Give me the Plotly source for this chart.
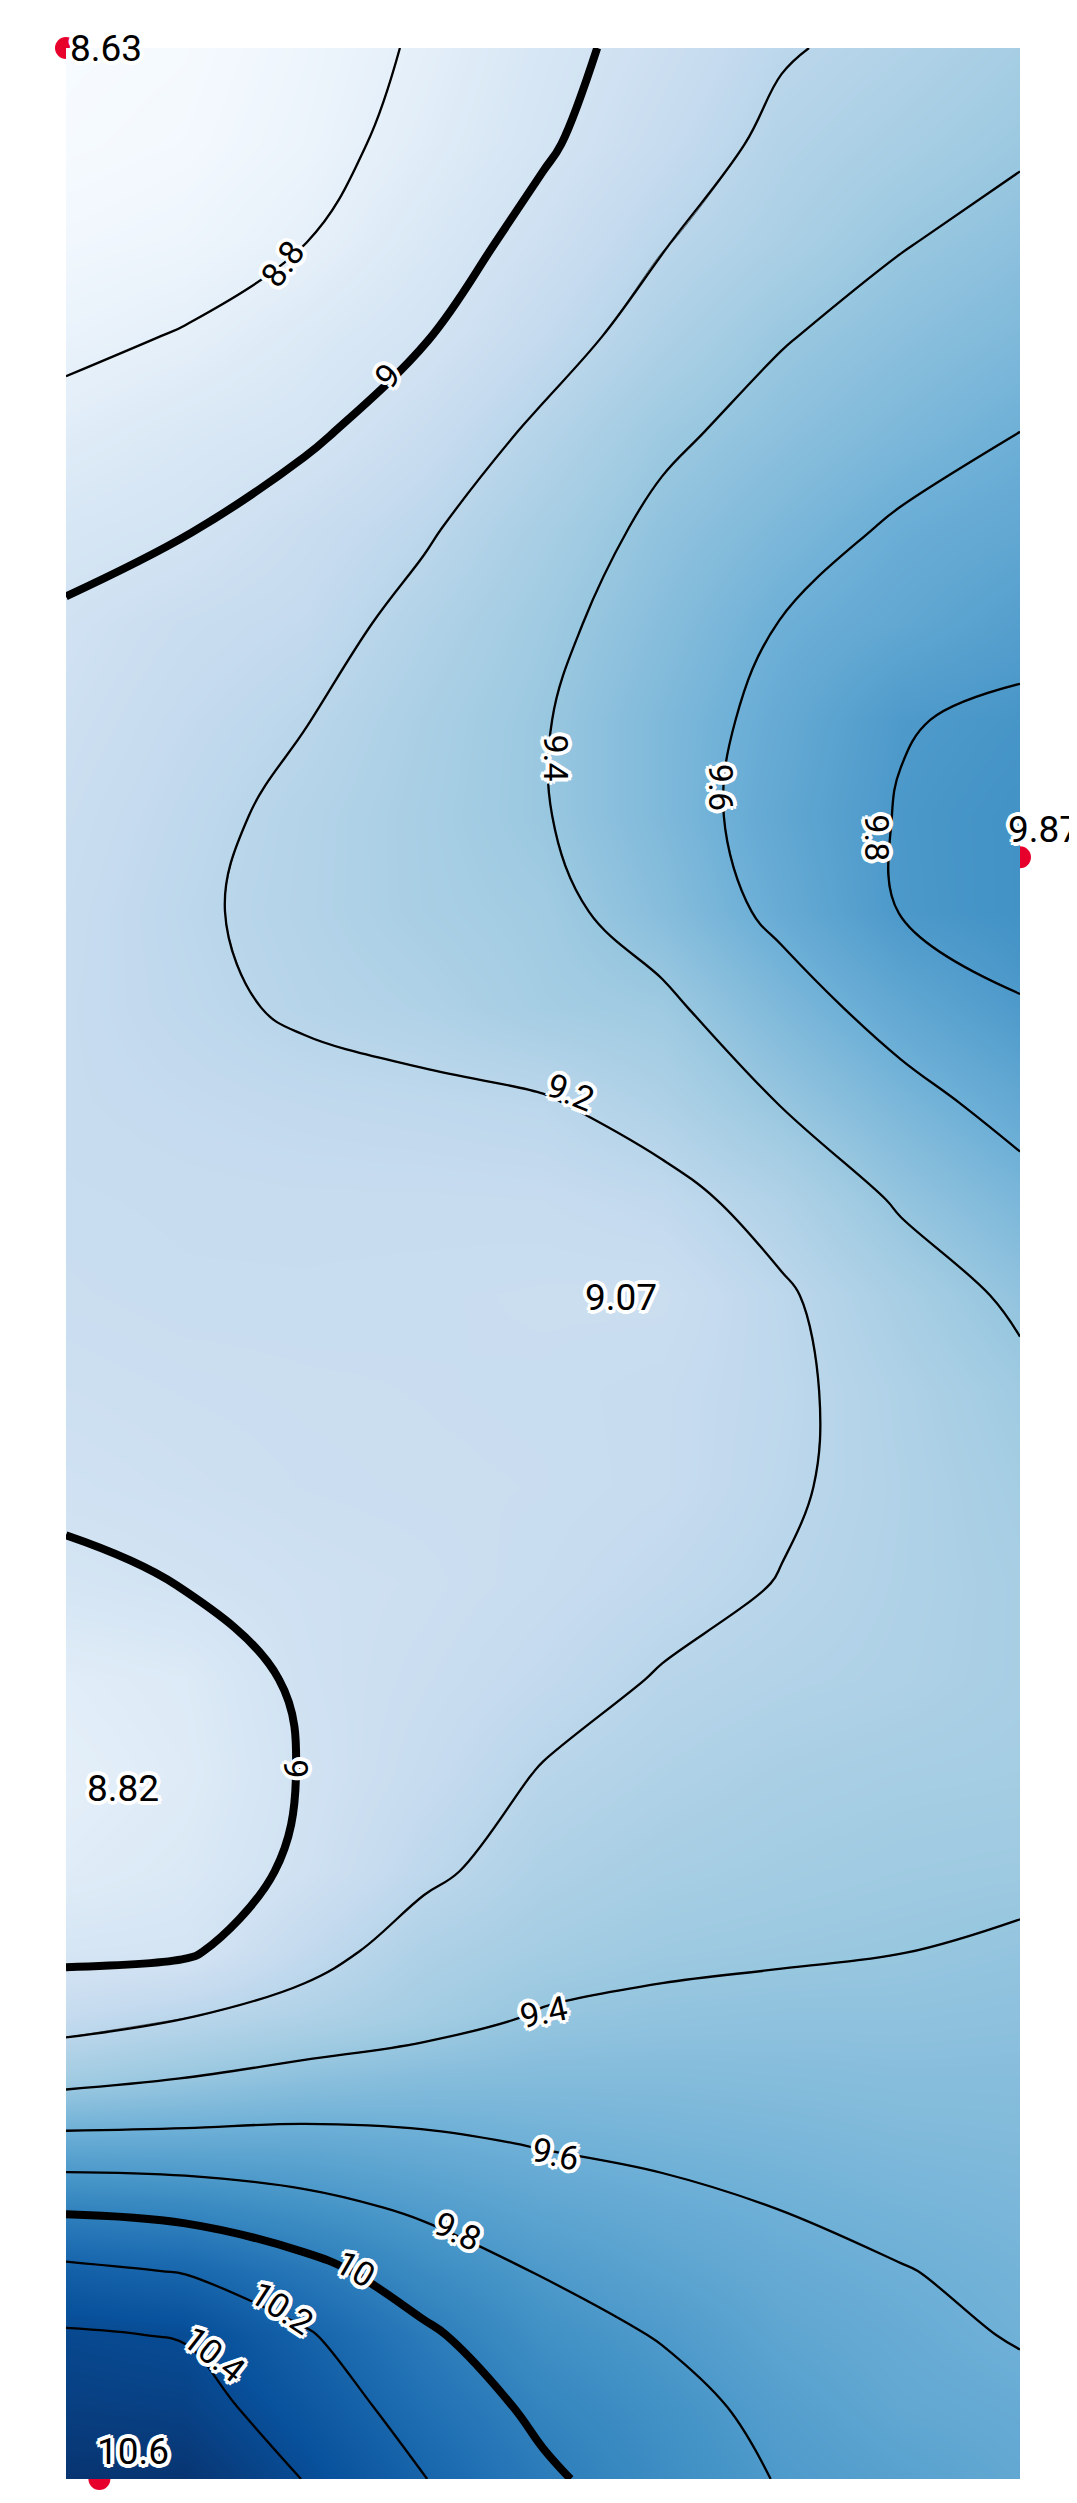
import plotly.graph_objects as go
import plotly.express as px

# measured field on a grid (x across, y down from the top edge)
x = [0, 75, 150, 225, 300, 375, 450, 525, 600]
y = [0, 60, 120, 180, 240, 300, 360, 420, 480, 540, 600, 660, 720, 780, 840,
     900, 960, 1020, 1080, 1140, 1190, 1230, 1270, 1310, 1350, 1390, 1430, 1475, 1520]
z = [
    [8.63, 8.65, 8.72, 8.82, 8.95, 9.06, 9.185, 9.25, 9.32],
    [8.645, 8.67, 8.74, 8.855, 8.98, 9.11, 9.24, 9.31, 9.38],
    [8.69, 8.72, 8.795, 8.92, 9.05, 9.19, 9.29, 9.39, 9.45],
    [8.76, 8.81, 8.90, 8.99, 9.13, 9.27, 9.39, 9.46, 9.52],
    [8.855, 8.92, 8.97, 9.09, 9.23, 9.37, 9.455, 9.53, 9.60],
    [8.95, 8.99, 9.085, 9.18, 9.31, 9.435, 9.53, 9.62, 9.67],
    [9.02, 9.09, 9.135, 9.25, 9.36, 9.48, 9.605, 9.675, 9.75],
    [9.05, 9.13, 9.195, 9.295, 9.39, 9.52, 9.65, 9.79, 9.83],
    [9.08, 9.16, 9.235, 9.31, 9.39, 9.52, 9.675, 9.81, 9.86],
    [9.10, 9.18, 9.24, 9.305, 9.35, 9.48, 9.64, 9.805, 9.86],
    [9.11, 9.165, 9.22, 9.26, 9.33, 9.366, 9.525, 9.67, 9.79],
    [9.11, 9.13, 9.15, 9.165, 9.185, 9.27, 9.405, 9.54, 9.66],
    [9.095, 9.105, 9.11, 9.11, 9.115, 9.15, 9.26, 9.42, 9.54],
    [9.08, 9.095, 9.095, 9.09, 9.08, 9.076, 9.18, 9.31, 9.43],
    [9.055, 9.07, 9.08, 9.085, 9.09, 9.11, 9.17, 9.265, 9.36],
    [9.03, 9.05, 9.07, 9.08, 9.085, 9.11, 9.18, 9.255, 9.33],
    [8.97, 9.005, 9.04, 9.06, 9.10, 9.15, 9.205, 9.26, 9.31],
    [8.85, 8.89, 9.03, 9.08, 9.14, 9.21, 9.245, 9.27, 9.31],
    [8.82, 8.87, 9.01, 9.11, 9.21, 9.26, 9.30, 9.32, 9.33],
    [8.86, 8.91, 9.03, 9.17, 9.27, 9.315, 9.34, 9.36, 9.37],
    [8.96, 8.975, 9.14, 9.27, 9.33, 9.37, 9.385, 9.398, 9.42],
    [9.12, 9.19, 9.26, 9.335, 9.41, 9.43, 9.44, 9.44, 9.45],
    [9.35, 9.405, 9.46, 9.49, 9.50, 9.50, 9.49, 9.48, 9.48],
    [9.66, 9.66, 9.66, 9.63, 9.59, 9.565, 9.545, 9.52, 9.51],
    [9.97, 9.935, 9.855, 9.77, 9.69, 9.64, 9.597, 9.565, 9.54],
    [10.24, 10.19, 10.06, 9.905, 9.79, 9.71, 9.645, 9.605, 9.57],
    [10.42, 10.39, 10.22, 10.03, 9.87, 9.79, 9.69, 9.64, 9.59],
    [10.49, 10.47, 10.31, 10.12, 9.96, 9.86, 9.75, 9.67, 9.64],
    [10.57, 10.565, 10.395, 10.205, 10.03, 9.90, 9.79, 9.73, 9.67],
]

# marked extremes (red dots)
pt_x = [0, 600, 21]
pt_y = [0, 506, 1520]
pt_label = ["8.63", "9.87", "10.6"]

# unmarked extremes
ex_x = [36, 349]
ex_y = [1088, 781]
ex_label = ["8.82", "9.07"]

# contour labels as placed in the original
lab_text = ["8.8", "9", "9.2", "9.4", "9.6", "9.8", "9", "9.4", "9.6", "9.8", "10", "10.2", "10.4"]
lab_x = [136, 202, 317, 308, 412, 510, 145, 300, 308, 246, 182, 136, 93]
lab_y = [135, 205, 653, 444, 462, 494, 1076, 1228, 1317, 1365, 1389, 1413, 1442]
lab_angle = [-53, -46, 22, 90, 90, 90, 90, -12, 13, 25, 30, 33, 38]

FONT = "Roboto, sans-serif"
ring = []
for r in (2, 4):
    for dx, dy in [(1, 0), (-1, 0), (0, 1), (0, -1), (0.7, 0.7), (-0.7, -0.7), (0.7, -0.7), (-0.7, 0.7)]:
        ring.append(f"{dx * r:.1f}px {dy * r:.1f}px 0 #fff")
HALO = ", ".join(ring)
zmin, zmax = 8.63, 10.6

blues = px.colors.sequential.Blues
scale = [[i / (len(blues) - 1), c] for i, c in enumerate(blues)]

fig = go.Figure()

# red dots sit under the field, only the part outside the frame shows
fig.add_trace(go.Scatter(
    x=pt_x, y=pt_y, mode="markers",
    marker=dict(size=22, color="#e8002c", line=dict(width=0)),
    cliponaxis=False, hoverinfo="skip", zorder=-1,
))

# smooth colour fill
fig.add_trace(go.Contour(
    x=x, y=y, z=z, colorscale=scale,
    zmin=zmin, zmax=zmax, showscale=False,
    contours=dict(coloring="heatmap", showlines=False, start=8.8, end=10.4, size=0.2),
    hoverinfo="skip",
))


def lines(start, end, size, width):
    return go.Contour(
        x=x, y=y, z=z, showscale=False,
        contours=dict(coloring="none", start=start, end=end, size=size),
        line=dict(color="black", width=width, smoothing=1.1),
        hoverinfo="skip",
    )


fig.add_trace(lines(8.8, 10.4, 0.2, 2.3))
fig.add_trace(lines(9, 10, 1, 8))

labfont = dict(family=FONT, size=34, color="black", shadow=HALO)
for lx, ly, lt, la in zip(lab_x, lab_y, lab_text, lab_angle):
    fig.add_annotation(x=lx, y=ly, text=lt, textangle=la, showarrow=False, font=labfont)

valfont = dict(family=FONT, size=37, color="black", shadow=HALO)
# values next to the red dots
fig.add_annotation(x=pt_x[0], y=pt_y[0], text=pt_label[0], showarrow=False,
                   xanchor="left", yanchor="middle", xshift=2, font=valfont)
fig.add_annotation(x=pt_x[1], y=pt_y[1], text=pt_label[1], showarrow=False,
                   xanchor="left", yanchor="bottom", xshift=-14, yshift=4, font=valfont)
fig.add_annotation(x=pt_x[2], y=pt_y[2], text=pt_label[2], showarrow=False,
                   xanchor="left", yanchor="bottom", xshift=-4, yshift=4, font=valfont)
for ex, ey, lab in zip(ex_x, ex_y, ex_label):
    fig.add_annotation(x=ex, y=ey, text=lab, showarrow=False, font=valfont)

fig.update_layout(
    width=1077, height=2503,
    margin=dict(l=58, r=65, t=40, b=32),
    paper_bgcolor="white", plot_bgcolor="white",
    showlegend=False,
)
fig.update_xaxes(range=[min(x), max(x)], visible=False)
fig.update_yaxes(range=[max(y), min(y)], visible=False)

fig.write_html("out.html")
